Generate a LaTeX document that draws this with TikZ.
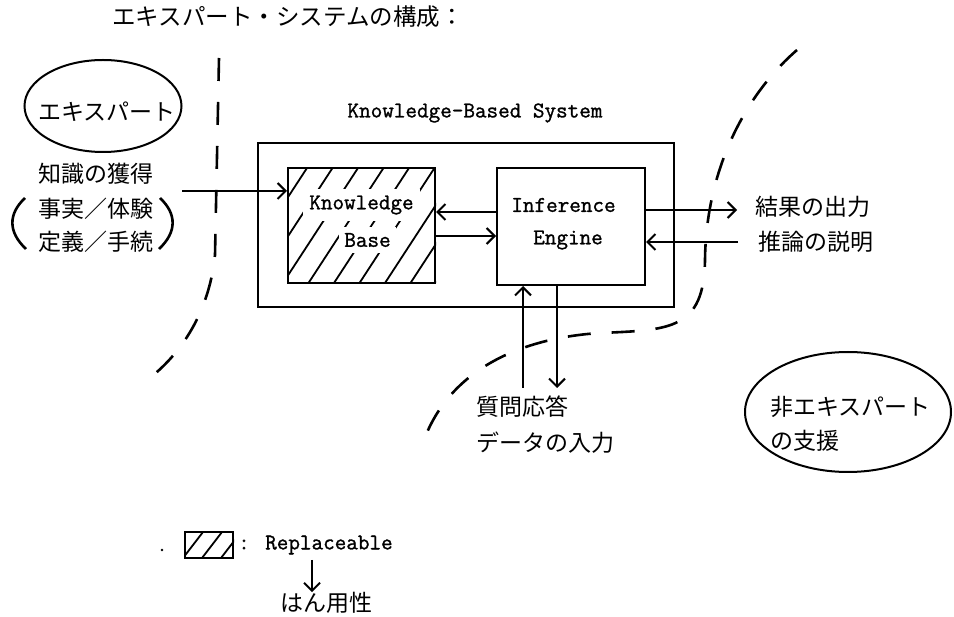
\documentclass[tikz,border=0pt]{standalone}
\usepackage{fontspec}
\newfontfamily\jpfont{Noto Sans CJK JP}
\newfontfamily\typew{Latin Modern Mono}[FakeBold=1.2]
\usetikzlibrary{arrows.meta,shapes.geometric}
\begin{document}
\begin{tikzpicture}[x=1pt,y=-1pt,
  jp/.style={font=\jpfont\fontsize{23}{27}\selectfont, inner sep=0pt},
  tt/.style={font=\typew\bfseries\fontsize{22.5}{26}\selectfont, inner sep=0pt},
  box/.style={draw, line width=2pt, inner sep=0pt},
  oval/.style={draw, ellipse, line width=2pt, inner sep=0pt},
  arr/.style={line width=2pt, -{Straight Barb[length=8pt,width=16pt,line width=2pt]}},
  bnd/.style={line width=2.6pt, dash pattern=on 23pt off 21pt},
  hatch/.style={line width=1.8pt},
  paren/.style={line width=2.6pt}]
\useasboundingbox (0,0) rectangle (954,617);
\fill[white] (0,0) rectangle (954,617);

% title
\node[jp, font=\jpfont\fontsize{23.5}{27}\selectfont] (title) at (288,17) {エキスパート・システムの構成：};

% expert
\node[oval, minimum width=157pt, minimum height=92pt] (expert) at (103,106) {};
\node[jp] (expertT) at (107,112) {エキスパート};
\node[jp] (acq) at (96,174) {知識の獲得};
\node[jp] (fact) at (96,209) {事実／体験};
\node[jp] (defn) at (96,242) {定義／手続};
\draw[paren] (25,198) .. controls (8,214) and (8,232) .. (26,249);
\draw[paren] (160,198) .. controls (177,214) and (177,232) .. (159,249);

% system
\node[tt] (kbsT) at (475,113) {Knowledge-Based System};
\node[box, minimum width=416pt, minimum height=164pt] (outer) at (466,225) {};
\node[box, minimum width=147pt, minimum height=115pt] (kb) at (361.5,225.5) {};
\begin{scope}
  \clip (kb.south west) rectangle (kb.north east);
  \foreach \k in {0,...,8} \draw[hatch] (307+25.5*\k,168) -- ++(-75,115);
\end{scope}
\node[tt, fill=white, inner xsep=6pt, inner ysep=7pt] (kbT1) at (361.5,205) {Knowledge};
\node[tt, fill=white, inner xsep=5pt, inner ysep=6pt] (kbT2) at (367.5,240) {Base};
\node[box, minimum width=148pt, minimum height=117pt] (ie) at (571,226.5) {};
\node[tt] (ieT1) at (563.5,205) {Inference};
\node[tt] (ieT2) at (568,240) {Engine};

% arrows
\coordinate (inS) at (182,191);
\draw[arr] (inS) -- (inS -| kb.west);
\draw[arr] (ie.west |- 0,212) -- (kb.east |- 0,212);
\draw[arr] (kb.east |- 0,236) -- (ie.west |- 0,236);
\coordinate (resE) at (737,210);
\draw[arr] (ie.east |- resE) -- (resE);
\coordinate (expS) at (738,242);
\draw[arr] (expS) -- (expS -| ie.east);
\node[jp, anchor=west] (res) at (755,207) {結果の出力};
\node[jp, anchor=west] (expl) at (758,242) {推論の説明};

\coordinate (qaS) at (523,388);
\draw[arr] (qaS) -- (qaS |- ie.south);
\coordinate (diE) at (557,388);
\draw[arr] (diE |- ie.south) -- (diE);
\node[jp, anchor=west] (qa) at (476,407) {質問応答};
\node[jp, anchor=west] (din) at (476,443) {データの入力};

% non-expert
\node[oval, minimum width=206pt, minimum height=120pt] (nonexp) at (848,412) {};
\node[jp, anchor=west] (nonT1) at (770,407) {非エキスパート};
\node[jp, anchor=west] (nonT2) at (770,441) {の支援};

% boundaries
\draw[bnd] (219,58) -- (215,255) .. controls (210,305) and (187,350) .. (146,381);
\draw[bnd] (797,50) .. controls (745,95) and (706,170) .. (705,260) .. controls (704,330) and (670,330) .. (600,333) .. controls (520,338) and (450,370) .. (424,440);

% legend
\fill (162,550) circle (1.3pt);
\node[box, minimum width=48pt, minimum height=26pt] (leg) at (209,545) {};
\begin{scope}
  \clip (leg.south west) rectangle (leg.north east);
  \foreach \b in {183,202,221} \draw[hatch] (\b,558) -- ++(20,-26);
\end{scope}
\node[tt, anchor=west] (rep) at (238,545) {: Replaceable};
\coordinate (hArr) at (312,560);
\node[jp] (hanyo) at (326,603) {はん用性};
\draw[arr] (hArr) -- (hArr |- hanyo.north);
\end{tikzpicture}
\end{document}
